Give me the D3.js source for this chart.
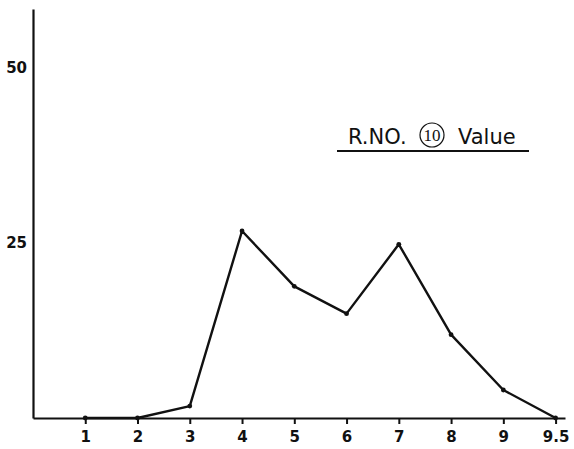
<!DOCTYPE html>
<html>
<head>
<meta charset="utf-8">
<script src="https://cdn.jsdelivr.net/npm/d3@7"></script>
<style>
  body { margin: 0; background: #fff; }
  .chart text { font-family: "DejaVu Sans", sans-serif; fill: #111; }
</style>
</head>
<body>
<div class="chart"></div>
<script>
// category labels along the bottom (equally spaced, 9.5 included)
var categories = ["1", "2", "3", "4", "5", "6", "7", "8", "9", "9.5"];
// values
var values = [0, 0, 1.7, 26.7, 18.8, 14.9, 24.8, 11.9, 4.0, 0];
var yTicks = [25, 50];
var titleParts = ["R.NO.", "10", "Value"];

var svgWidth = 574;
var svgHeight = 449;

var margin = { top: 9, right: 9, bottom: 31, left: 33 };

var svg = d3
  .select(".chart")
  .append("svg")
  .attr("width", svgWidth)
  .attr("height", svgHeight);

// index 0 is the origin, categories sit at 1..10
var xScale = d3.scaleLinear().domain([0, 10.18]).range([margin.left, svgWidth - margin.right]);
var yScale = d3.scaleLinear().domain([0, 58.4]).range([svgHeight - margin.bottom, margin.top]);

var bottomAxis = d3
  .axisBottom(xScale)
  .tickValues(d3.range(1, categories.length + 1))
  .tickFormat(function(i) { return categories[i - 1]; })
  .tickSize(6)
  .tickSizeOuter(0)
  .tickPadding(7);

var leftAxis = d3
  .axisLeft(yScale)
  .tickValues(yTicks)
  .tickSize(0)
  .tickPadding(6);

var xAxisG = svg.append("g")
  .attr("transform", "translate(0," + yScale(0) + ")")
  .call(bottomAxis);

var yAxisG = svg.append("g")
  .attr("transform", "translate(" + margin.left + ",0)")
  .call(leftAxis);

[xAxisG, yAxisG].forEach(function(g) {
  g.select(".domain").attr("stroke", "#111").attr("stroke-width", 2.2);
  g.selectAll(".tick line").attr("stroke", "#111").attr("stroke-width", 2);
  g.selectAll(".tick text")
    .style("font-size", "15px")
    .style("font-weight", "bold")
    .attr("fill", "#111");
});

// line
var line = d3.line()
  .x(function(d, i) { return xScale(i + 1); })
  .y(function(d) { return yScale(d); });

svg.append("path")
  .datum(values)
  .attr("fill", "none")
  .attr("stroke", "#111")
  .attr("stroke-width", 2.4)
  .attr("stroke-linejoin", "round")
  .attr("d", line);

svg.selectAll(".dot")
  .data(values)
  .enter()
  .append("circle")
  .attr("class", "dot")
  .attr("cx", function(d, i) { return xScale(i + 1); })
  .attr("cy", function(d) { return yScale(d); })
  .attr("r", 2.4)
  .attr("fill", "#111");

// title: "R.NO. (10) Value" with underline
var title = svg.append("g");

title.append("text")
  .attr("x", 348)
  .attr("y", 144)
  .style("font-size", "21px")
  .text(titleParts[0]);

title.append("circle")
  .attr("cx", 432)
  .attr("cy", 135)
  .attr("r", 12)
  .attr("fill", "none")
  .attr("stroke", "#111")
  .attr("stroke-width", 1.2);

title.append("text")
  .attr("x", 432)
  .attr("y", 141)
  .attr("text-anchor", "middle")
  .style("font-family", "'Liberation Serif', serif")
  .style("font-size", "17px")
  .text(titleParts[1]);

title.append("text")
  .attr("x", 458)
  .attr("y", 144)
  .style("font-size", "21px")
  .text(titleParts[2]);

title.append("line")
  .attr("x1", 337)
  .attr("x2", 529)
  .attr("y1", 151)
  .attr("y2", 151)
  .attr("stroke", "#111")
  .attr("stroke-width", 2);
</script>
</body>
</html>
